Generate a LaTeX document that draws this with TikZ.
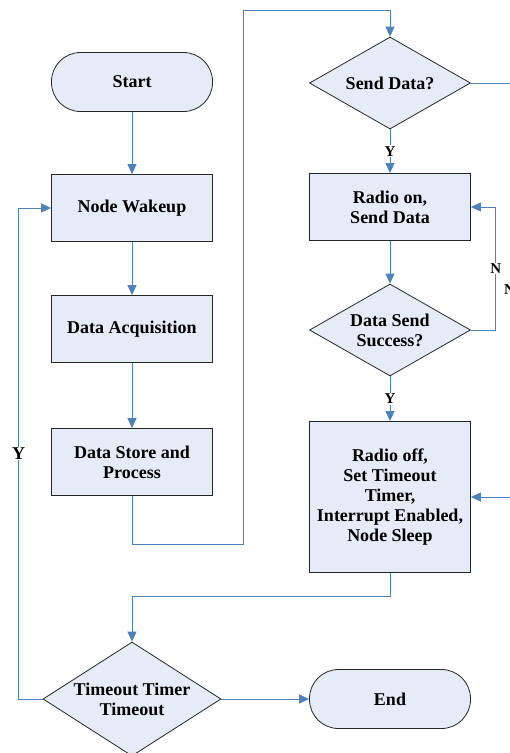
\documentclass[tikz,border=0pt]{standalone}
\usepackage{fontspec}
\setmainfont{Liberation Serif}
\usetikzlibrary{arrows.meta,shapes.geometric,positioning,calc}
\definecolor{flowfill}{HTML}{E6ECF7}
\definecolor{flowline}{HTML}{4F81BD}
\begin{document}
\begin{tikzpicture}[x=1pt, y=-1pt,
    box/.style={draw=black!85, fill=flowfill, line width=0.8pt, minimum width=161pt, minimum height=67pt, align=center, inner sep=2pt, font=\bfseries\fontsize{18}{20}\selectfont},
    term/.style={box, rounded corners=29pt, minimum height=59pt},
    dec/.style={box, diamond, aspect=1.75, minimum width=161pt, minimum height=92pt, inner sep=0pt},
    arr/.style={-{Triangle[length=10pt,width=9pt]}, flowline, line width=0.9pt},
    lnk/.style={flowline, line width=0.9pt},
    lbl/.style={fill=white, text=black, inner sep=1pt, font=\bfseries\fontsize{15}{16}\selectfont}
]
\useasboundingbox (0,0) rectangle (510,753);

% left column
\node[term] (start) at (132,82) {Start};
\node[box] (wake) at (132,208) {Node Wakeup};
\node[box] (acq) at (132,329) {Data Acquisition};
\node[box] (store) at (132,462) {Data Store and\\Process};
\node[dec, aspect=1.56, minimum width=178pt, minimum height=114pt] (timeout) at (132,699) {Timeout Timer\\Timeout};

% right column
\node[dec] (send) at (390,83) {Send Data?};
\node[box] (radon) at (390,207) {Radio on,\\Send Data};
\node[dec] (succ) at (390,330) {Data Send\\Success?};
\node[box, minimum height=151pt] (radoff) at (390,497) {Radio off,\\Set Timeout\\Timer,\\Interrupt Enabled,\\Node Sleep};
\node[term] (endn) at (390,699) {End};

% corner points and the loose ends at the right border
\coordinate (c1) at (243,544);
\coordinate (c2) at (243,10);
\coordinate (edgeR) at (512,0);
\node[lbl, fill=none, anchor=west] (nPart) at (503,290) {N};

\draw[arr] (start) -- (wake);
\draw[arr] (wake) -- (acq);
\draw[arr] (acq) -- (store);
\draw[arr] (store.south) |- (c1) -- (c2) -| (send.north);
\draw[lnk] (send.east) -- (send.east -| edgeR);
\draw[arr] (send) -- node[lbl] {Y} (radon);
\draw[arr] (radon) -- (succ);
\draw[arr] (succ.east) -- ++(25,0) |- node[lbl, pos=0.25] {N} (radon.east);
\draw[arr] (succ) -- node[lbl] {Y} (radoff);
\draw[arr] (radoff.east -| edgeR) -- (radoff.east);
\draw[arr] (radoff.south) -- ++(0,24) -| (timeout.north);
\draw[arr] (timeout.west) -- ++(-24,0) |- node[lbl, pos=0.25, font=\bfseries\fontsize{18}{20}\selectfont] {Y} (wake.west);
\draw[arr] (timeout) -- (endn);
\end{tikzpicture}
\end{document}
